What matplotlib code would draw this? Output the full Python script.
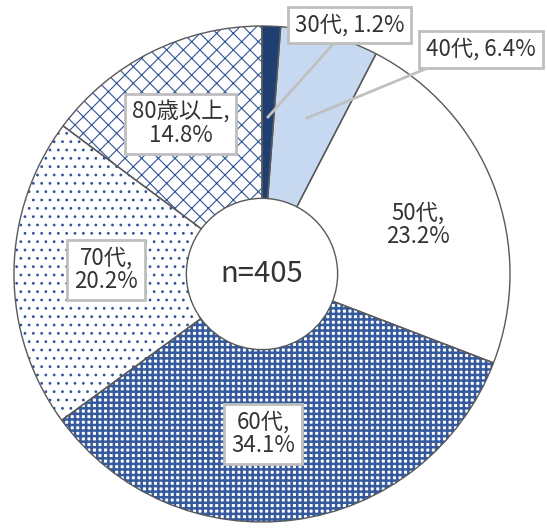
import matplotlib
matplotlib.use("Agg")
import matplotlib.pyplot as plt

plt.rcParams['font.family'] = ['Noto Sans CJK JP', 'DejaVu Sans']

categories = ["30代", "40代", "50代", "60代", "70代", "80歳以上"]
values = [1.2, 6.4, 23.2, 34.1, 20.2, 14.8]
labels = ["30代, 1.2%", "40代, 6.4%", "50代,\n23.2%", "60代,\n34.1%", "70代,\n20.2%", "80歳以上,\n14.8%"]
center_text = "n=405"

# styles: (facecolor, hatch, hatch color, hatch linewidth)
styles = [
    ("#1f3f73", None, "#1f3f73", 1.0),
    ("#c6d9f0", None, "#c6d9f0", 1.0),
    ("#ffffff", None, "#ffffff", 1.0),
    ("#ffffff", "+++", "#34599c", 1.8),
    ("#ffffff", "..", "#2f5597", 0.8),
    ("#ffffff", "xx", "#2f5597", 0.8),
]
label_pos = [(0.352, 1.005), (0.883, 0.905), (0.629, 0.198),
             (0.004, -0.645), (-0.629, 0.016), (-0.327, 0.605)]
leaders = {0: ((0.294, 0.935), (0.024, 0.633)),
           1: ((0.698, 0.843), (0.181, 0.629))}

fig = plt.figure(figsize=(5.47, 5.29), dpi=100)
fig.patch.set_facecolor("white")
ax = fig.add_axes([14/547, 7/529, 496/547, 496/529])

width = 0.695
wedges, _ = ax.pie(values, startangle=90, counterclock=False, radius=1,
                   wedgeprops=dict(width=width, linewidth=0))
for w, (fc, hatch, hc, hlw) in zip(wedges, styles):
    w.set_facecolor(fc)
    w.set_edgecolor(hc)
    w.set_linewidth(0)
    if hatch:
        w.set_hatch(hatch)
        if hasattr(w, "set_hatch_linewidth"):
            w.set_hatch_linewidth(hlw)
ax.pie(values, startangle=90, counterclock=False, radius=1,
       wedgeprops=dict(width=width, linewidth=1.0, edgecolor="#595959", fill=False))
ax.set_xlim(-1, 1)
ax.set_ylim(-1, 1)
ax.set_aspect("auto")
ax.axis("off")

ax.text(0, 0, center_text, ha="center", va="center", fontsize=21, color="#333333")

for i, (lab, (x, y)) in enumerate(zip(labels, label_pos)):
    if i in leaders:
        (x0, y0), (x1, y1) = leaders[i]
        ax.plot([x0, x1], [y0, y1], color="#c0c0c0", lw=2, zorder=4)
    ax.text(x, y, lab, ha="center", va="center", fontsize=16, color="#333333",
            linespacing=1.05, zorder=5,
            bbox=dict(boxstyle="square,pad=0.3", facecolor="white",
                      edgecolor="#bfbfbf" if i != 2 else "white", linewidth=2))

fig.savefig("out.png", dpi=100)
